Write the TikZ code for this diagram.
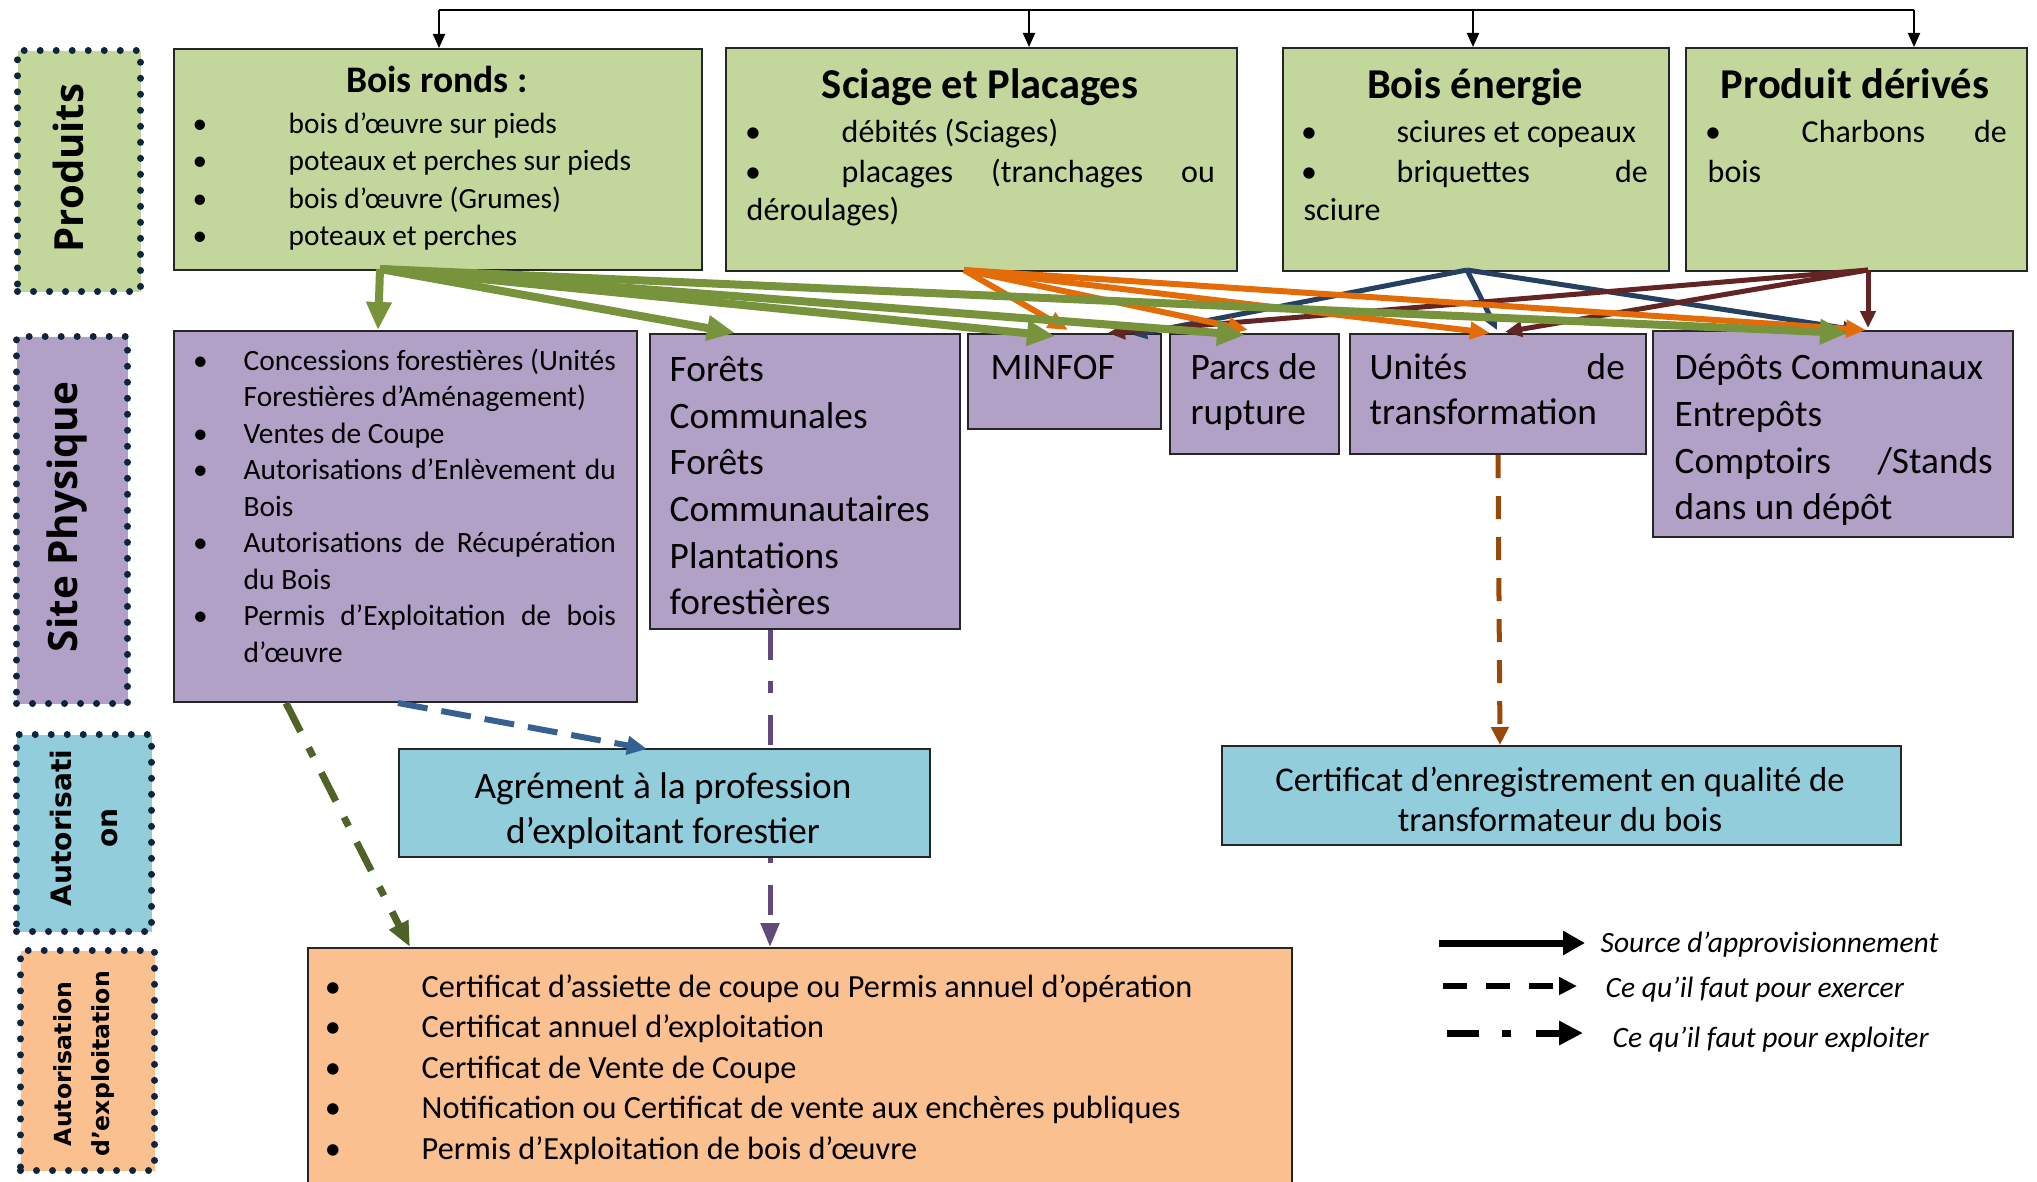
\documentclass[tikz,border=0pt]{standalone}
\usepackage{fontspec}
\setmainfont{Carlito}
\newfontfamily\opensans{Open Sans}
\newfontfamily\dejavu{DejaVu Sans}
\usetikzlibrary{arrows.meta,calc}
\definecolor{gfill}{HTML}{C3D69B}
\definecolor{pfill}{HTML}{B2A1C7}
\definecolor{bfill}{HTML}{92CDDC}
\definecolor{ofill}{HTML}{FAC090}
\definecolor{dotc}{HTML}{10243F}
\definecolor{garr}{HTML}{77933C}
\definecolor{oarr}{HTML}{E36C09}
\definecolor{narr}{HTML}{254061}
\definecolor{marr}{HTML}{632523}
\definecolor{bdash}{HTML}{376092}
\definecolor{odash}{HTML}{4F6228}
\definecolor{pdash}{HTML}{604A7B}
\definecolor{brdash}{HTML}{984807}
\newcommand{\ftA}{\fontsize{8.34pt}{10pt}\selectfont}
\newcommand{\ftT}{\fontsize{10.67pt}{12pt}\selectfont\bfseries}
\newcommand{\ftTT}{\fontsize{12.09pt}{14pt}\selectfont\bfseries}
\newcommand{\ftB}{\fontsize{9.1pt}{11pt}\selectfont}
\newcommand{\ftC}{\fontsize{8.37pt}{10pt}\selectfont}
\newcommand{\ftD}{\fontsize{10.61pt}{13pt}\selectfont}
\newcommand{\ftE}{\fontsize{10.58pt}{13pt}\selectfont}
\newcommand{\ftF}{\fontsize{9.87pt}{12pt}\selectfont}
\newcommand{\ftG}{\fontsize{9.19pt}{11pt}\selectfont}
\newcommand{\ftH}{\fontsize{8.39pt}{10pt}\selectfont\itshape}
\newcommand{\jst}[2]{\makebox[#1cm][s]{#2}}
\newcommand{\boxat}[6]{\node[#1, anchor=north west, inner sep=0pt, minimum width={(#5-#3)*0.01cm}, minimum height={(#6-#4)*0.01cm}] (#2) at (#3,#4) {};}
\newcommand{\tline}[5]{\node[txt,font=#2] (#1) at (#3,#4) {#5};}
\newcommand{\ctline}[5]{\node[ctxt,font=#2] (#1) at (#3,#4) {#5};}
\newcommand{\bul}[4]{\node[ctxt,font=#2] (#1) at (#3,#4) {•};}
\tikzset{
  box/.style={draw=black!85, line width=0.02cm},
  gbox/.style={box, fill=gfill},
  pbox/.style={box, fill=pfill},
  bbox/.style={box, fill=bfill},
  obox/.style={box, fill=ofill},
  lab/.style={draw=dotc, line width=0.07cm, dash pattern=on 0pt off 0.16cm, line cap=round},
  rot/.style={rotate=90, inner sep=0pt},
  txt/.style={anchor=base west, inner sep=0pt},
  ctxt/.style={anchor=base, inner sep=0pt},
  blk/.style={draw=black, line width=0.02cm},
  blkarr/.style={blk, -{Triangle[length=0.14cm,width=0.12cm]}},
  garrow/.style={draw=garr, line width=0.08cm, -{Triangle[length=0.28cm,width=0.24cm]}},
  oarrow/.style={draw=oarr, line width=0.06cm, -{Triangle[length=0.2cm,width=0.17cm]}},
  narrow/.style={draw=narr, line width=0.05cm, -{Triangle[length=0.14cm,width=0.13cm]}},
  marrow/.style={draw=marr, line width=0.05cm, -{Triangle[length=0.17cm,width=0.15cm]}},
  exer/.style={draw=bdash, line width=0.06cm, dash pattern=on 0.3cm off 0.14cm, -{Triangle[length=0.2cm,width=0.18cm]}},
  exploA/.style={draw=odash, line width=0.07cm, dash pattern=on 0.32cm off 0.18cm on 0.1cm off 0.18cm, -{Triangle[length=0.25cm,width=0.2cm]}},
  exploB/.style={draw=pdash, line width=0.05cm, dash pattern=on 0.3cm off 0.21cm on 0.12cm off 0.22cm, -{Triangle[length=0.24cm,width=0.18cm]}},
  exerB/.style={draw=brdash, line width=0.05cm, dash pattern=on 0.23cm off 0.18cm, -{Triangle[length=0.18cm,width=0.17cm]}},
  legA/.style={draw=black, line width=0.07cm, -{Triangle[length=0.22cm,width=0.23cm]}},
  legB/.style={draw=black, line width=0.055cm, dash pattern=on 0.24cm off 0.19cm, -{Triangle[length=0.18cm,width=0.17cm]}},
  legC/.style={draw=black, line width=0.07cm, dash pattern=on 0.32cm off 0.23cm on 0.09cm off 0.25cm, -{Triangle[length=0.24cm,width=0.23cm]}}
}
\begin{document}
\begin{tikzpicture}[x=0.01cm,y=-0.01cm]
\useasboundingbox (0,0) rectangle (2037,1181);

% left labels
\boxat{lab,fill=gfill}{lb1}{14}{47}{137}{288}
\boxat{lab,fill=pfill}{lb2}{13}{333}{124}{700}
\boxat{lab,fill=bfill}{lb3}{13}{731}{148}{928}
\boxat{lab,fill=ofill}{lb4}{17}{947}{151}{1167}
\node[rot,font=\opensans\bfseries\fontsize{11.4pt}{13pt}\selectfont] (lt1) at (68,168) {Produits};
\node[rot,font=\opensans\bfseries\fontsize{11.5pt}{13pt}\selectfont] (lt2) at (67,517) {Site Physique};
\node[rot,align=center,font=\dejavu\bfseries\fontsize{8pt}{13.1pt}\selectfont] (lt3) at (84,828) {Autorisati\\on};
\node[rot,align=center,font=\dejavu\bfseries\fontsize{6.7pt}{10.8pt}\selectfont] (lt4) at (84,1064) {Autorisation\\d’exploitation};

% product boxes
\boxat{gbox}{br}{173}{48}{701}{269}
\boxat{gbox}{sc}{725}{47}{1236}{270}
\boxat{gbox}{be}{1282}{47}{1668}{270}
\boxat{gbox}{pd}{1685}{47}{2026}{270}

\ctline{brt}{\ftT}{437}{92}{Bois ronds :}
\bul{brb1}{\ftA}{200}{133}\tline{br1}{\ftA}{288}{133}{bois d’œuvre sur pieds}
\bul{brb2}{\ftA}{200}{170.5}\tline{br2}{\ftA}{288}{170.5}{poteaux et perches sur pieds}
\bul{brb3}{\ftA}{200}{208}\tline{br3}{\ftA}{288}{208}{bois d’œuvre (Grumes)}
\bul{brb4}{\ftA}{200}{245.5}\tline{br4}{\ftA}{288}{245.5}{poteaux et perches}

\ctline{sct}{\ftTT}{980}{98}{Sciage et Placages}
\bul{scb1}{\ftB}{753}{142}\tline{sc1}{\ftB}{841}{142}{débités (Sciages)}
\bul{scb2}{\ftB}{753}{182}\tline{sc2}{\ftB}{841}{182}{\jst{3.73}{placages (tranchages ou}}
\tline{sc3}{\ftB}{746}{220}{déroulages)}

\ctline{bet}{\ftTT}{1475}{98}{Bois énergie}
\bul{beb1}{\ftB}{1309}{142}\tline{be1}{\ftB}{1396}{142}{sciures et copeaux}
\bul{beb2}{\ftB}{1309}{182}\tline{be2}{\ftB}{1396}{182}{\jst{2.51}{briquettes de}}
\tline{be3}{\ftB}{1303}{220}{sciure}

\ctline{pdt}{\ftTT}{1855}{98}{Produit dérivés}
\bul{pdb1}{\ftB}{1713}{142}\tline{pd1}{\ftB}{1801}{142}{\jst{2.05}{Charbons de}}
\tline{pd2}{\ftB}{1707}{182}{bois}

% site boxes
\boxat{pbox}{conc}{173}{330}{636}{701}
\boxat{pbox}{fc}{649}{333}{959}{628}
\boxat{pbox}{minfof}{967}{333}{1160}{428}
\boxat{pbox}{parcs}{1169}{333}{1338}{453}
\boxat{pbox}{unites}{1349}{333}{1645}{453}
\boxat{pbox}{depots}{1652}{330}{2012}{536}

\bul{cob1}{\ftC}{200.5}{370}\tline{co1}{\ftC}{243}{370}{\jst{3.72}{Concessions forestières (Unités}}
\tline{co2}{\ftC}{243}{406.5}{Forestières d’Aménagement)}
\bul{cob3}{\ftC}{200.5}{443}\tline{co3}{\ftC}{243}{443}{Ventes de Coupe}
\bul{cob4}{\ftC}{200.5}{479.5}\tline{co4}{\ftC}{243}{479.5}{\jst{3.72}{Autorisations d’Enlèvement du}}
\tline{co5}{\ftC}{243}{516}{Bois}
\bul{cob6}{\ftC}{200.5}{552.5}\tline{co6}{\ftC}{243}{552.5}{\jst{3.72}{Autorisations de Récupération}}
\tline{co7}{\ftC}{243}{589}{du Bois}
\bul{cob8}{\ftC}{200.5}{625.5}\tline{co8}{\ftC}{243}{625.5}{\jst{3.72}{Permis d’Exploitation de bois}}
\tline{co9}{\ftC}{243}{662}{d’œuvre}

\tline{fc1}{\ftD}{669}{381}{Forêts}
\tline{fc2}{\ftD}{669}{428}{Communales}
\tline{fc3}{\ftD}{669}{474}{Forêts}
\tline{fc4}{\ftD}{669}{521}{Communautaires}
\tline{fc5}{\ftD}{669}{568}{Plantations}
\tline{fc6}{\ftD}{669}{614}{forestières}

\tline{mi1}{\ftD}{990}{379}{MINFOF}
\tline{pa1}{\ftD}{1190}{379}{Parcs de}
\tline{pa2}{\ftD}{1190}{424}{rupture}
\tline{un1}{\ftD}{1369}{379}{\jst{2.55}{Unités de}}
\tline{un2}{\ftD}{1369}{424}{transformation}
\tline{de1}{\ftD}{1674}{379}{Dépôts Communaux}
\tline{de2}{\ftD}{1674}{426}{Entrepôts}
\tline{de3}{\ftD}{1674}{473}{\jst{3.18}{Comptoirs /Stands}}
\tline{de4}{\ftD}{1674}{519}{dans un dépôt}

% exploitation box
\boxat{obox}{expl}{307}{947}{1291}{1200}
\bul{exb1}{\ftG}{333}{997}\tline{ex1}{\ftG}{421}{997}{Certificat d’assiette de coupe ou Permis annuel d’opération}
\bul{exb2}{\ftG}{333}{1037.5}\tline{ex2}{\ftG}{421}{1037.5}{Certificat annuel d’exploitation}
\bul{exb3}{\ftG}{333}{1078}\tline{ex3}{\ftG}{421}{1078}{Certificat de Vente de Coupe}
\bul{exb4}{\ftG}{333}{1118.5}\tline{ex4}{\ftG}{421}{1118.5}{Notification ou Certificat de vente aux enchères publiques}
\bul{exb5}{\ftG}{333}{1159}\tline{ex5}{\ftG}{421}{1159}{Permis d’Exploitation de bois d’œuvre}

% purple dash-dot behind Agrement
\draw[exploB] ($(fc.south west)+(121,0)$) -- ($(expl.north west)+(463,0)$);

% autorisation boxes
\boxat{bbox}{agr}{398}{748}{929}{856}
\boxat{bbox}{cert}{1221}{745}{1900}{844}
\ctline{ag1}{\ftE}{663}{798}{Agrément à la profession}
\ctline{ag2}{\ftE}{663}{843}{d’exploitant forestier}
\ctline{ce1}{\ftF}{1560}{791}{Certificat d’enregistrement en qualité de}
\ctline{ce2}{\ftF}{1560}{831}{transformateur du bois}

% top connector
\coordinate (top1) at (439,10);
\coordinate (top2) at (1029,10);
\coordinate (top3) at (1473,10);
\coordinate (top4) at (1914,10);
\draw[blk] (top1) -- (top4);
\draw[blkarr] (top1) -- (top1 |- br.north);
\draw[blkarr] (top2) -- (top2 |- sc.north);
\draw[blkarr] (top3) -- (top3 |- be.north);
\draw[blkarr] (top4) -- (top4 |- pd.north);

% supply arrows
\coordinate (gs) at ($(br.south west)+(207,-2)$);
\coordinate (os) at ($(sc.south west)+(239,-2)$);
\coordinate (ns) at ($(be.south west)+(185,-2)$);
\coordinate (ms) at ($(pd.south west)+(183,-2)$);
\draw[narrow] (ns) -- ($(minfof.north west)+(166,2)$);
\draw[narrow] (ns) -- ($(unites.north west)+(148,-3)$);
\draw[narrow] (ns) -- ($(depots.north west)+(205,0)$);
\draw[marrow] (ms) -- ($(minfof.north west)+(141,0)$);
\draw[marrow] (ms) -- ($(unites.north west)+(156,-1)$);
\draw[marrow] (ms) -- ($(depots.north west)+(216,-2)$);
\draw[oarrow] (os) -- ($(minfof.north west)+(101,-3)$);
\draw[oarrow] (os) -- ($(parcs.north west)+(79,-3)$);
\draw[oarrow] (os) -- ($(unites.north west)+(141,0)$);
\draw[oarrow] (os) -- ($(depots.north west)+(214,0)$);
\draw[garrow] (gs) -- ($(conc.north west)+(205,0)$);
\draw[garrow] (gs) -- ($(fc.north west)+(86,0)$);
\draw[garrow] (gs) -- ($(minfof.north west)+(88,3)$);
\draw[garrow] (gs) -- ($(parcs.north west)+(76,2)$);
\draw[garrow] (gs) -- ($(depots.north west)+(196,3)$);

% requirement arrows
\draw[exer] ($(conc.south west)+(225,0)$) -- ($(agr.north west)+(249,1)$);
\draw[exploA] ($(conc.south west)+(113,0)$) -- ($(expl.north west)+(103,0)$);
\draw[exerB] ($(unites.south west)+(149,0)$) -- ($(cert.north west)+(279,0)$);

% legend
\coordinate (la1) at (1439,943); \coordinate (la2) at (1585,943);
\coordinate (lb1c) at (1443,986); \coordinate (lb2c) at (1577,986);
\coordinate (lc1) at (1447,1033); \coordinate (lc2) at (1583,1033);
\draw[legA] (la1) -- (la2);
\draw[legB] (lb1c) -- (lb2c);
\draw[legC] (lc1) -- (lc2);
\tline{lg1}{\ftH}{1600}{952}{Source d’approvisionnement}
\tline{lg2}{\ftH}{1605}{997}{Ce qu’il faut pour exercer}
\tline{lg3}{\ftH}{1612}{1047}{Ce qu’il faut pour exploiter}
\end{tikzpicture}
\end{document}
